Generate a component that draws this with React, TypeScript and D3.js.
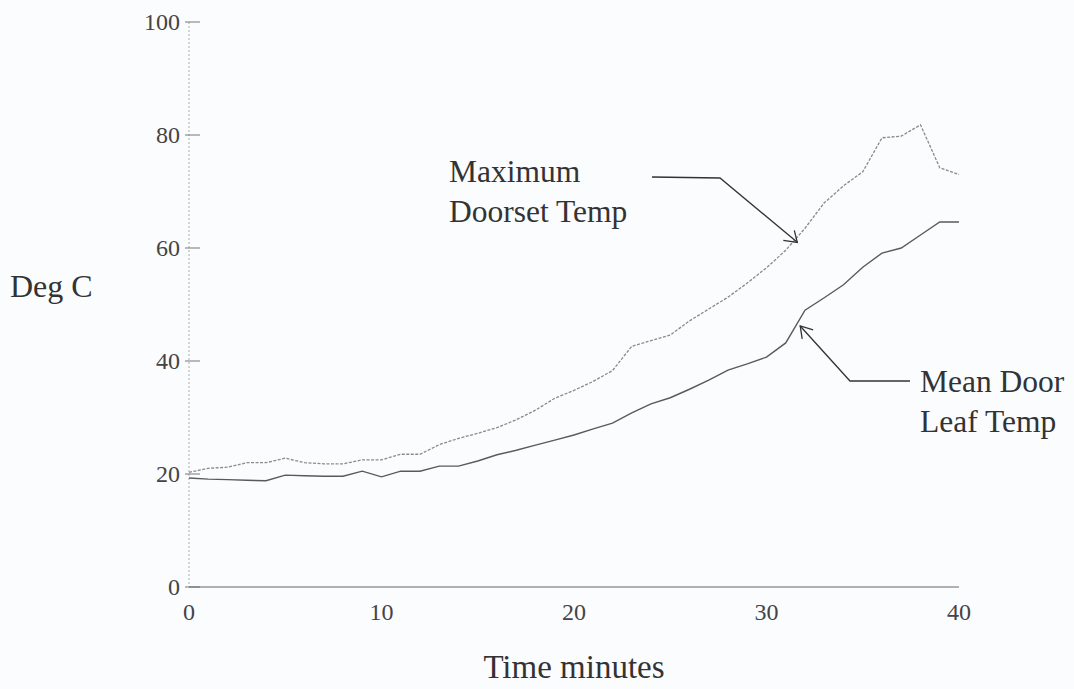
import React from 'react';
import * as d3 from 'd3';

const minutes = d3.range(0, 41);
const maxDoorset = [
  20.3, 21, 21.2, 22, 22, 22.8, 22, 21.8, 21.8, 22.5, 22.5,
  23.5, 23.5, 25.2, 26.3, 27.2, 28.2, 29.6, 31.3, 33.4, 34.8,
  36.4, 38.3, 42.6, 43.6, 44.6, 47.1, 49.2, 51.3, 53.8, 56.5,
  59.6, 63.5, 68, 71, 73.5, 79.5, 79.8, 81.8, 74.2, 73,
];
const meanDoorLeaf = [
  19.3, 19.1, 19, 18.9, 18.8, 19.8, 19.7, 19.6, 19.6, 20.5, 19.5,
  20.5, 20.5, 21.4, 21.4, 22.3, 23.4, 24.2, 25.1, 26, 26.9,
  28, 29, 30.8, 32.4, 33.5, 35, 36.6, 38.4, 39.5, 40.7,
  43.2, 49, 51.2, 53.5, 56.6, 59.1, 60, 62.3, 64.6, 64.6,
];
const yTicks = [0, 20, 40, 60, 80, 100];
const xTicks = [0, 10, 20, 30, 40];

const W = 1074;
const H = 689;
const FONT = '"Liberation Serif", "Times New Roman", serif';

const App = () => {
  const x = d3.scaleLinear().domain([0, 40]).range([189, 959]);
  const y = d3.scaleLinear().domain([0, 100]).range([587, 22]);

  const line = d3.line<number>()
    .x((d, i) => x(minutes[i]))
    .y(d => y(d));

  return (
    <svg width={W} height={H} style={{ position: 'absolute', left: 0, top: 0, background: '#fbfcfe' }}>
      {/* y axis */}
      <line x1={x(0)} x2={x(0)} y1={y(100)} y2={y(0)} stroke="#aaa" strokeWidth={1} strokeDasharray="2,2" />
      {yTicks.map(t => (
        <g key={t}>
          <line x1={x(0) - 4} x2={x(0) + 11} y1={y(t)} y2={y(t)} stroke="#777" strokeWidth={1} />
          <text x={x(0) - 9} y={y(t)} dy="0.35em" textAnchor="end" fontFamily={FONT} fontSize={24} fill="#444">{t}</text>
        </g>
      ))}
      {/* x axis */}
      <line x1={x(0)} x2={x(40)} y1={y(0)} y2={y(0)} stroke="#666" strokeWidth={1.2} />
      {xTicks.map(t => (
        <text key={t} x={x(t)} y={y(0) + 33} textAnchor="middle" fontFamily={FONT} fontSize={24} fill="#444">{t}</text>
      ))}
      <text x={574} y={678} textAnchor="middle" fontFamily={FONT} fontSize={33} fill="#333">Time minutes</text>
      <text x={10} y={297} fontFamily={FONT} fontSize={32} fill="#333">Deg C</text>

      {/* series */}
      <path d={line(maxDoorset) || ''} fill="none" stroke="#8a8a8a" strokeWidth={1.3} strokeDasharray="3,1.5" />
      <path d={line(meanDoorLeaf) || ''} fill="none" stroke="#5a5a5a" strokeWidth={1.4} />

      {/* annotations */}
      <text fontFamily={FONT} fontSize={31.5} fill="#333">
        <tspan x={449} y={182}>Maximum</tspan>
        <tspan x={449} y={222}>Doorset Temp</tspan>
      </text>
      <polyline points={`652,177 720,178 ${x(31.6)},${y(61)}`} fill="none" stroke="#333" strokeWidth={1.3} />
      <path d={`M${x(31.6) - 14},${y(61) - 2} L${x(31.6)},${y(61)} L${x(31.6) - 3},${y(61) - 12}`} fill="none" stroke="#333" strokeWidth={1.3} />

      <text fontFamily={FONT} fontSize={31.5} fill="#333">
        <tspan x={920} y={392}>Mean Door</tspan>
        <tspan x={920} y={432}>Leaf Temp</tspan>
      </text>
      <polyline points={`910,381 850,381 ${x(31.75)},${y(46.2)}`} fill="none" stroke="#333" strokeWidth={1.3} />
      <path d={`M${x(31.75) + 2},${y(46.2) + 13} L${x(31.75)},${y(46.2)} L${x(31.75) + 13},${y(46.2) + 4}`} fill="none" stroke="#333" strokeWidth={1.3} />
    </svg>
  );
};

export default App;
